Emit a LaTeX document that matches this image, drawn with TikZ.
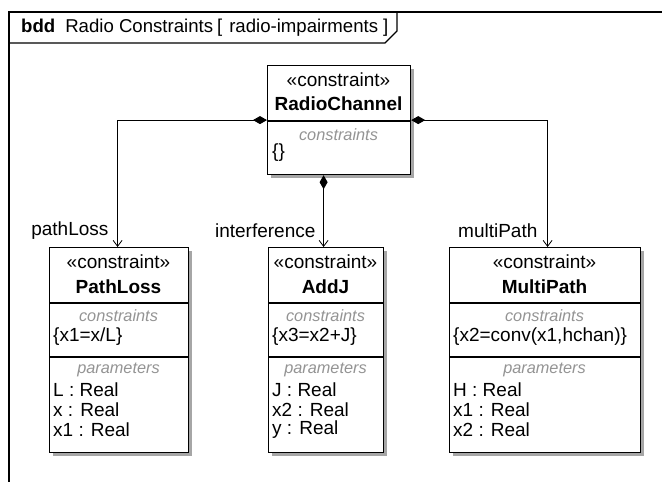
\documentclass[tikz,border=0pt]{standalone}
\usepackage{fontspec}
\setmainfont{Liberation Sans}
\usetikzlibrary{arrows.meta,shadows}
\begin{document}
\begin{tikzpicture}[x=1pt,y=-1pt,
  txt/.style={font=\fontsize{19}{21}\selectfont, inner sep=0pt, text=black},
  hdr/.style={txt, font=\fontsize{19}{21}\selectfont\bfseries},
  sec/.style={txt, font=\fontsize{16.3}{18}\selectfont\itshape, text=black!42},
  blk/.style={draw, line width=1.2pt, fill=white, inner sep=0pt, anchor=north west,
     drop shadow={shadow xshift=3pt, shadow yshift=-3pt, fill=black!35, opacity=1}},
  divider/.style={line width=1.2pt},
  comp/.style={line width=1pt, {Diamond[fill=black, length=14pt, width=8pt]}-{Straight Barb[length=6pt, width=9pt, line width=0.8pt]}},
  lbl/.style={txt, anchor=east}
]
\useasboundingbox (0,0) rectangle (662,482);
% frame
\draw[line width=1.3pt] (9,482) -- (9,12) -- (662,12);
\draw[line width=1.1pt] (9,43) -- (385,43) -- (397,31) -- (397,12);
\node[txt, font=\fontsize{18.6}{20}\selectfont, anchor=west] (title) at (21,28) {\textbf{bdd}\hspace{10pt}Radio Constraints\hspace{4pt}[\hspace{7pt}radio-impairments\hspace{5pt}]};

% RadioChannel
\node[blk, minimum width=143pt, minimum height=109pt] (rc) at (267,65) {};
\draw[divider] (267,121) -- (410,121);
\node[txt] (rcs) at (338.5,80) {«constraint»};
\node[hdr] (rcn) at (338.5,104) {RadioChannel};
\node[sec] (rcc) at (338.5,135) {constraints};
\node[txt, anchor=west] (rcb) at (272,153) {\{\}};

% PathLoss
\node[blk, minimum width=139pt, minimum height=205pt] (pl) at (49,247) {};
\draw[divider] (49,303) -- (188,303);
\draw[divider] (49,357) -- (188,357);
\node[txt] (pls) at (118.5,262) {«constraint»};
\node[hdr] (pln) at (118.5,287) {PathLoss};
\node[sec] (plc) at (118.5,316) {constraints};
\node[txt, anchor=west] (ple) at (53,337) {\{x1=x/L\}};
\node[sec] (plp) at (118.5,370) {parameters};
\node[txt, anchor=west] (pl1) at (53,390) {L : Real};
\node[txt, anchor=west] (pl2) at (53,410) {x : Real};
\node[txt, anchor=west] (pl3) at (53,430) {x1 : Real};

% AddJ
\node[blk, minimum width=115pt, minimum height=205pt] (aj) at (268,247) {};
\draw[divider] (268,303) -- (383,303);
\draw[divider] (268,357) -- (383,357);
\node[txt] (ajs) at (325.5,262) {«constraint»};
\node[hdr] (ajn) at (325.5,287) {AddJ};
\node[sec] (ajc) at (325.5,316) {constraints};
\node[txt, anchor=west] (aje) at (272,337) {\{x3=x2+J\}};
\node[sec] (ajp) at (325.5,370) {parameters};
\node[txt, anchor=west] (aj1) at (272,390) {J : Real};
\node[txt, anchor=west] (aj2) at (272,410) {x2 : Real};
\node[txt, anchor=west] (aj3) at (272,430) {y : Real};

% MultiPath
\node[blk, minimum width=191pt, minimum height=205pt] (mp) at (449,247) {};
\draw[divider] (449,303) -- (640,303);
\draw[divider] (449,357) -- (640,357);
\node[txt] (mps) at (544.5,262) {«constraint»};
\node[hdr] (mpn) at (544.5,287) {MultiPath};
\node[sec] (mpc) at (544.5,316) {constraints};
\node[txt, anchor=west] (mpe) at (453,337) {\{x2=conv(x1,hchan)\}};
\node[sec] (mpp) at (544.5,370) {parameters};
\node[txt, anchor=west] (mp1) at (453,390) {H : Real};
\node[txt, anchor=west] (mp2) at (453,410) {x1 : Real};
\node[txt, anchor=west] (mp3) at (453,430) {x2 : Real};

% connectors
\coordinate (plt) at ([xshift=-1.5pt]pl.north);
\coordinate (ajt) at ([xshift=-2.5pt]aj.north);
\coordinate (mpt) at ([xshift=2.5pt]mp.north);
\draw[comp] (rc.west) -| (plt);
\draw[comp] (rc.south -| ajt) -- (ajt);
\draw[comp] (rc.east) -| (mpt);

\node[lbl] (l1) at ([xshift=-9pt, yshift=16pt]plt) {pathLoss};
\node[lbl] (l2) at ([xshift=-8pt, yshift=16pt]ajt) {interference};
\node[lbl] (l3) at ([xshift=-10pt, yshift=16pt]mpt) {multiPath};
\end{tikzpicture}
\end{document}
